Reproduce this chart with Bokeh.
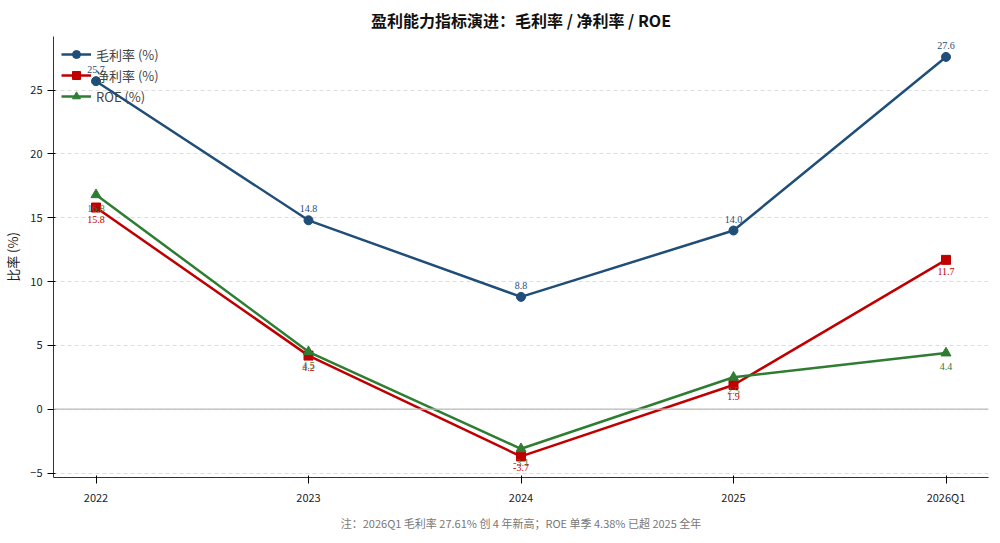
from bokeh.plotting import figure
from bokeh.models import ColumnDataSource, Range1d, FixedTicker, Title, Span, Legend, LegendItem, LabelSet
from bokeh.embed import file_html
from bokeh.resources import INLINE

periods = ["2022", "2023", "2024", "2025", "2026Q1"]
gross = [25.7, 14.8, 8.8, 14.0, 27.6]
net = [15.8, 4.2, -3.7, 1.9, 11.7]
roe = [16.8, 4.5, -3.1, 2.5, 4.4]
xs = list(range(len(periods)))
FONT = "Noto Sans CJK SC"

p = figure(width=990, height=535, output_backend="svg", toolbar_location=None,
           x_range=Range1d(-0.2, 4.2), y_range=Range1d(-5.35, 29.2),
           min_border_left=50, min_border_right=2, min_border_top=6)
p.title.text = "盈利能力指标演进：毛利率 / 净利率 / ROE"
p.title.align = "center"
p.title.text_font = FONT
p.title.text_font_size = "16px"
p.title.text_font_style = "bold"
p.title.text_color = "#111111"
p.add_layout(Title(text="注：2026Q1 毛利率 27.61% 创 4 年新高；ROE 单季 4.38% 已超 2025 全年",
                   align="center", text_font=FONT, text_font_size="11px",
                   text_color="#777777", text_font_style="normal"), "below")

p.xaxis.ticker = FixedTicker(ticks=xs)
p.xaxis.major_label_overrides = {i: s for i, s in enumerate(periods)}
p.yaxis.ticker = FixedTicker(ticks=[-5, 0, 5, 10, 15, 20, 25])
for ax in (p.xaxis, p.yaxis):
    ax.major_label_text_font = FONT
    ax.major_label_text_font_size = "11px"
    ax.major_label_text_color = "#222222"
    ax.minor_tick_line_color = None
    ax.axis_line_color = "#333333"
p.yaxis.axis_label = "比率 (%)"
p.yaxis.axis_label_text_font = FONT
p.yaxis.axis_label_text_font_size = "13px"
p.yaxis.axis_label_text_font_style = "normal"
p.yaxis.axis_label_text_color = "#222222"
p.xgrid.grid_line_color = None
p.ygrid.grid_line_dash = "4 3"
p.ygrid.grid_line_color = "#dddddd"
p.outline_line_color = None
p.add_layout(Span(location=0, dimension="width", line_color="#bbbbbb", line_width=1.2))

src = ColumnDataSource(dict(x=xs, g=gross, n=net, r=roe,
                            gl=[f"{v:.1f}" for v in gross],
                            nl=[f"{v:.1f}" for v in net],
                            rl=[f"{v:.1f}" for v in roe]))
cg, cn, cr = "#1f4e79", "#c00000", "#2e7d32"
l1 = p.line("x", "g", source=src, color=cg, line_width=2.5)
m1 = p.scatter("x", "g", source=src, color=cg, size=9, marker="circle")
l2 = p.line("x", "n", source=src, color=cn, line_width=2.5)
m2 = p.scatter("x", "n", source=src, color=cn, size=9, marker="square")
l3 = p.line("x", "r", source=src, color=cr, line_width=2.5)
m3 = p.scatter("x", "r", source=src, color=cr, size=10, marker="triangle")

for col, ycol, c, yoff, base in (("gl", "g", cg, 8, "bottom"), ("nl", "n", cn, -8, "top"), ("rl", "r", cr, -10, "top")):
    p.add_layout(LabelSet(x="x", y=ycol, text=col, source=src, text_color=c, text_font_size="10px",
                          text_align="center", text_baseline=base, y_offset=yoff, text_font="Noto Sans"))

legend = Legend(items=[LegendItem(label="毛利率 (%)", renderers=[l1, m1]),
                       LegendItem(label="净利率 (%)", renderers=[l2, m2]),
                       LegendItem(label="ROE (%)", renderers=[l3, m3])],
                location="top_left", border_line_color=None, background_fill_alpha=0,
                label_text_font=FONT, label_text_font_size="13px", spacing=1, padding=4, margin=8,
                glyph_height=20, glyph_width=30, label_height=20)
p.add_layout(legend)

open("out.html", "w").write(file_html(p, INLINE))
